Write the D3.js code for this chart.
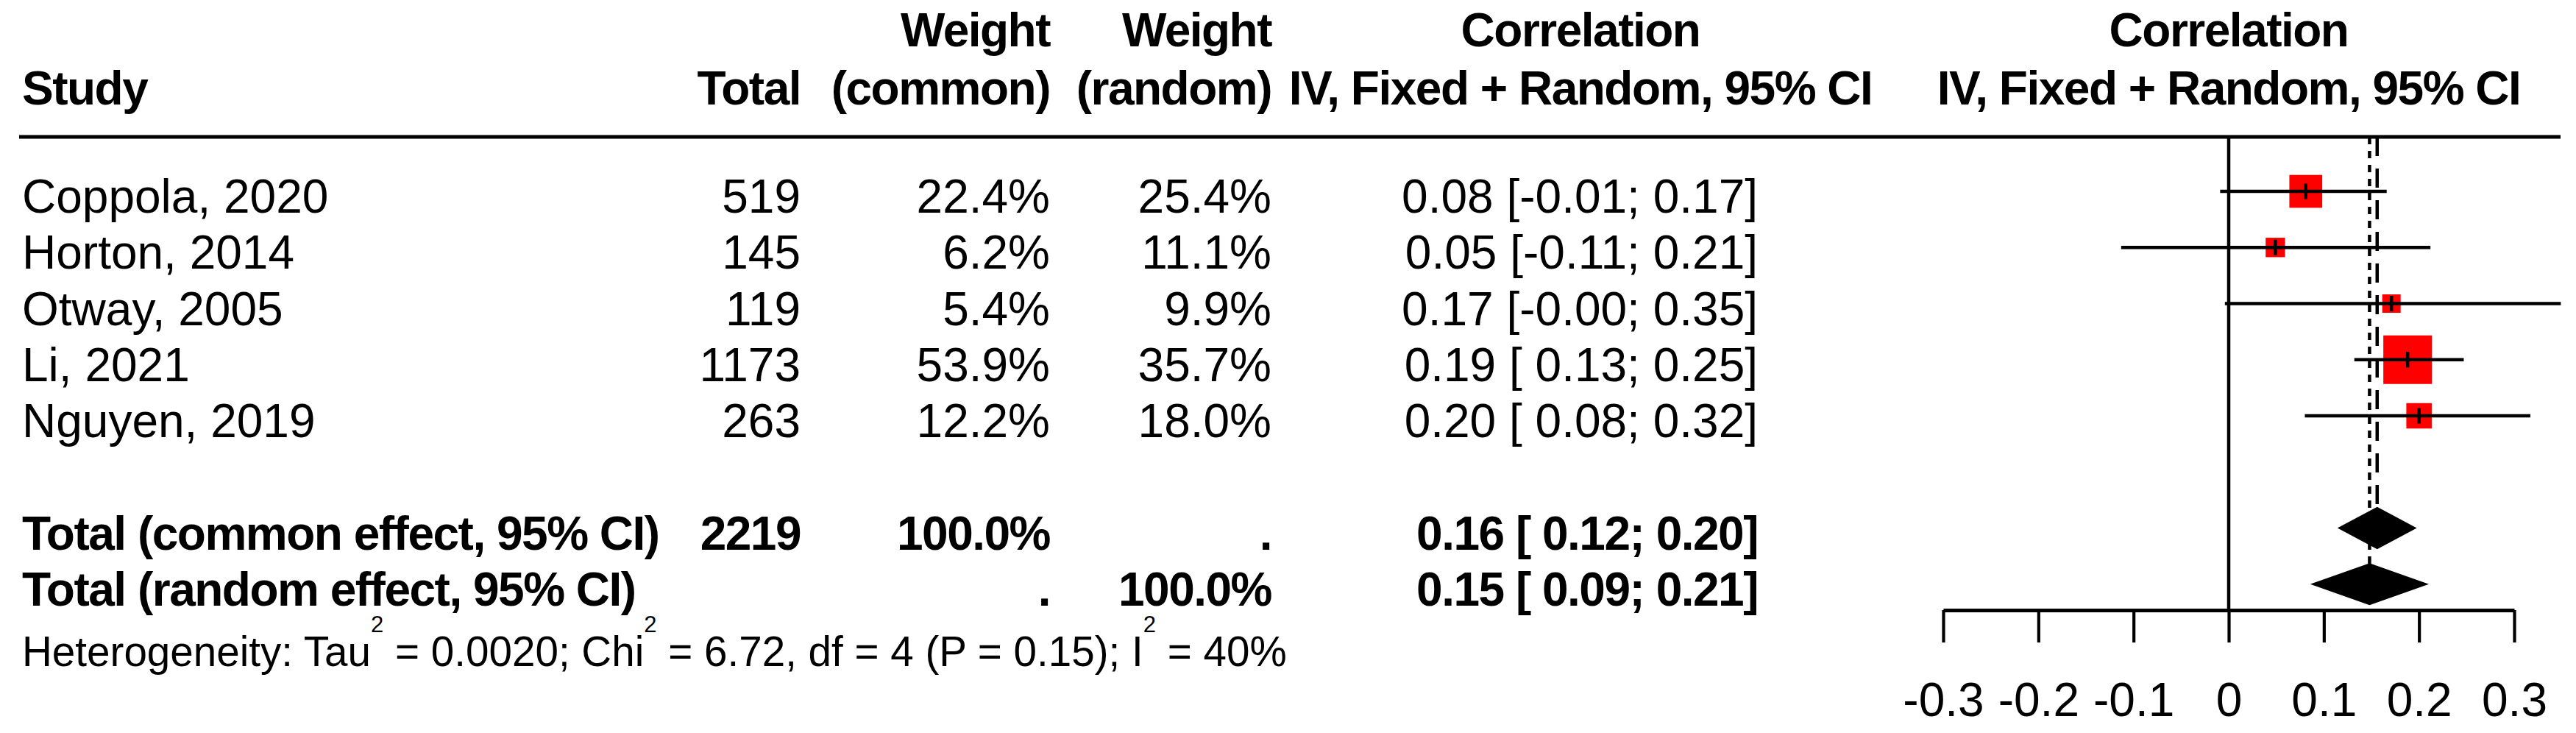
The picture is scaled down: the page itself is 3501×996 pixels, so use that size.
<!DOCTYPE html>
<html><head><meta charset="utf-8">
<script src="https://cdn.jsdelivr.net/npm/d3@7"></script>
<style>
html,body{margin:0;padding:0;background:#fff;}
svg{display:block;}
text{font-family:"Liberation Sans", Arial, sans-serif; white-space:pre; fill:#000;}
</style></head><body><svg id="chart" width="3501" height="996"></svg>
<script>
// ---- data ----
const studies = ["Coppola, 2020", "Horton, 2014", "Otway, 2005", "Li, 2021", "Nguyen, 2019"];
const totals = [519, 145, 119, 1173, 263];
const weightCommon = [22.4, 6.2, 5.4, 53.9, 12.2];
const weightRandom = [25.4, 11.1, 9.9, 35.7, 18.0];
const estimates = [0.081, 0.049, 0.171, 0.188, 0.200];
const lowers = [-0.009, -0.113, -0.004, 0.132, 0.080];
const uppers = [0.166, 0.212, 0.349, 0.247, 0.317];
const summaryLabels = ["Total (common effect, 95% CI)", "Total (random effect, 95% CI)"];
const summaryTotal = 2219;
const summaryWeight = 100.0;
const summaryEst = [0.156, 0.148];
const summaryLower = [0.116, 0.088];
const summaryUpper = [0.196, 0.208];
const tickValues = [-0.3, -0.2, -0.1, 0, 0.1, 0.2, 0.3];
const tickLabels = ["-0.3", "-0.2", "-0.1", "0", "0.1", "0.2", "0.3"];
const hetParts = [["Heterogeneity: Tau", false], ["2", true], [" = 0.0020; Chi", false], ["2", true],
                  [" = 6.72, df = 4 (P = 0.15); I", false], ["2", true], [" = 40%", false]];

// ---- layout ----
const W = 3501, H = 996;
const FS = 64;
const svg = d3.select("#chart");
svg.append("rect").attr("width", W).attr("height", H).attr("fill", "#fff");

const x = d3.scaleLinear().domain([-0.3, 0.3]).range([2641, 3417]);
const row = d3.scaleLinear().domain([0, 1]).range([260, 336.25]);   // mark centre per row
const baseline = i => row(i) + 29;
const sq = d3.scaleSqrt().domain([0, d3.max(weightCommon)]).range([6, 66]);
const axisY = 829, ruleY = 186, diamondHalf = 27.5;

const colStudy = 30, colTotal = 1088, colWC = 1427, colWR = 1728, colEff = 2389, colEffHead = 2148;
const plotCenter = (x.range()[0] + x.range()[1]) / 2;

function txt(str, xx, yy, anchor, bold, size) {
  const t = svg.append("text").attr("x", xx).attr("y", yy)
    .attr("text-anchor", anchor).attr("font-size", size || FS)
    .attr("font-weight", bold ? "bold" : "normal").text(str);
  if (bold) t.attr("letter-spacing", "-1.5px");
  return t;
}
const anyNeg = d3.min(lowers) < 0;
const fmtCI = (e, l, h) => e.toFixed(2) + " [" + (anyNeg && l >= 0 ? " " : "") + l.toFixed(2) + "; " + h.toFixed(2) + "]";
const pct = v => v.toFixed(1) + "%";

// headers
txt("Study", colStudy, 142, "start", true);
txt("Total", colTotal, 142, "end", true);
txt("Weight", colWC, 63, "end", true);
txt("(common)", colWC, 142, "end", true);
txt("Weight", colWR, 63, "end", true);
txt("(random)", colWR, 142, "end", true);
txt("Correlation", colEffHead, 63, "middle", true);
txt("IV, Fixed + Random, 95% CI", colEffHead, 142, "middle", true);
txt("Correlation", plotCenter, 63, "middle", true);
txt("IV, Fixed + Random, 95% CI", plotCenter, 142, "middle", true);

svg.append("line").attr("x1", 26).attr("x2", 3480).attr("y1", ruleY).attr("y2", ruleY)
  .attr("stroke", "#000").attr("stroke-width", 5);

// study rows
studies.forEach((s, i) => {
  const b = baseline(i);
  txt(s, colStudy, b, "start", false);
  txt(String(totals[i]), colTotal, b, "end", false);
  txt(pct(weightCommon[i]), colWC, b, "end", false);
  txt(pct(weightRandom[i]), colWR, b, "end", false);
  txt(fmtCI(estimates[i], lowers[i], uppers[i]), colEff, b, "end", false);
});

// summary rows
const sumRows = [6, 7];
summaryLabels.forEach((lab, k) => {
  const b = baseline(sumRows[k]);
  txt(lab, colStudy, b, "start", true);
  txt(k === 0 ? String(summaryTotal) : "", colTotal, b, "end", true);
  txt(k === 0 ? pct(summaryWeight) : ".", colWC, b, "end", true);
  txt(k === 1 ? pct(summaryWeight) : ".", colWR, b, "end", true);
  txt(fmtCI(summaryEst[k], summaryLower[k], summaryUpper[k]), colEff, b, "end", true);
});

// heterogeneity
const het = svg.append("text").attr("x", colStudy).attr("y", 905).attr("font-size", 56.6);
let raised = false;
hetParts.forEach(([t, sup]) => {
  const ts = het.append("tspan").text(t);
  if (sup) { ts.attr("dy", -46).attr("font-size", 31); raised = true; }
  else if (raised) { ts.attr("dy", 46); raised = false; }
});

// reference lines
const gp = svg.append("g");
gp.append("line").attr("x1", x(0)).attr("x2", x(0)).attr("y1", ruleY).attr("y2", axisY)
  .attr("stroke", "#000").attr("stroke-width", 4.5);
gp.append("line").attr("x1", x(summaryEst[0])).attr("x2", x(summaryEst[0]))
  .attr("y1", ruleY).attr("y2", row(6) - diamondHalf)
  .attr("stroke", "#000").attr("stroke-width", 4.5).attr("stroke-dasharray", "26,17");
gp.append("line").attr("x1", x(summaryEst[1])).attr("x2", x(summaryEst[1]))
  .attr("y1", ruleY).attr("y2", row(7) - diamondHalf)
  .attr("stroke", "#000").attr("stroke-width", 4.5).attr("stroke-dasharray", "10,9");

// squares, CI lines, ticks
studies.forEach((s, i) => {
  const cy = row(i), sz = sq(weightCommon[i]);
  gp.append("rect").attr("x", x(estimates[i]) - sz / 2).attr("y", cy - sz / 2)
    .attr("width", sz).attr("height", sz).attr("fill", "#ff0000");
  gp.append("line").attr("x1", x(lowers[i])).attr("x2", x(uppers[i])).attr("y1", cy).attr("y2", cy)
    .attr("stroke", "#000").attr("stroke-width", 4.5);
  gp.append("line").attr("x1", x(estimates[i])).attr("x2", x(estimates[i]))
    .attr("y1", cy - 10.5).attr("y2", cy + 10.5).attr("stroke", "#000").attr("stroke-width", 4.5);
});

// diamonds
summaryEst.forEach((e, k) => {
  const cy = row(sumRows[k]);
  const pts = [[x(summaryLower[k]), cy], [x(e), cy - diamondHalf], [x(summaryUpper[k]), cy], [x(e), cy + diamondHalf]];
  gp.append("polygon").attr("points", pts.map(p => p.join(",")).join(" "))
    .attr("fill", "#000").attr("stroke", "#000").attr("stroke-width", 2);
});

// axis
const ax = svg.append("g").attr("transform", `translate(0,${axisY})`)
  .call(d3.axisBottom(x).tickValues(tickValues).tickFormat((d, i) => tickLabels[i])
    .tickSize(44).tickSizeOuter(0).tickPadding(54.6));
ax.attr("font-size", null).attr("font-family", null);
ax.select(".domain").attr("stroke", "#000").attr("stroke-width", 5);
ax.selectAll(".tick line").attr("stroke", "#000").attr("stroke-width", 4.2);
ax.selectAll(".tick text").attr("font-size", FS).attr("fill", "#000");
</script></body></html>
